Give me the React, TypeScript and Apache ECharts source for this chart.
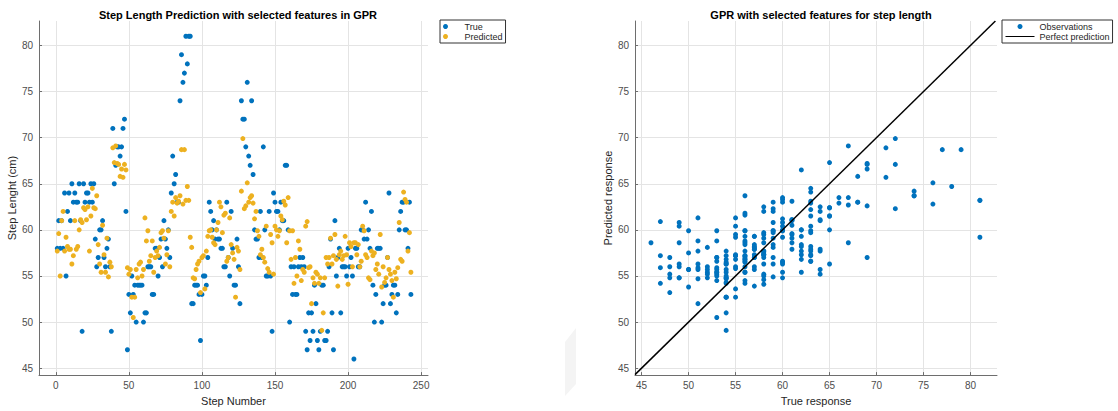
import React, { useEffect, useRef } from "react";
import * as echarts from "echarts";

const trueLength: number[] = [
  58, 61, 58, 61, 58, 64, 55, 62, 64, 61, 65, 63, 64, 63, 63, 65, 61, 49, 65, 63,
  64, 64, 63, 65, 63, 65, 59, 56, 57, 60, 60, 61, 57, 56, 58, 59, 56, 49,
  71, 65, 67, 69, 69, 68, 69, 71, 72, 62,
  47, 53, 51, 55, 53, 54, 50, 54, 54, 54, 54, 50, 51, 51, 56, 56, 56, 53, 53, 58,
  58, 55, 57, 59, 56, 61, 59, 58, 60, 57,
  64, 68, 65, 66, 63, 63, 74, 79, 76, 77, 81, 78, 81, 81, 52, 52, 54, 54, 54, 53,
  48, 53, 55, 55, 54, 57,
  63, 62, 60, 61, 59, 60, 59, 59, 58, 58, 56, 56, 63, 57, 55, 62, 58, 54, 54, 59,
  56, 52,
  74, 72, 72, 69, 76, 68, 67, 74, 66, 60, 59, 59, 57, 62, 57, 69, 60, 55, 55, 62,
  55, 49, 64, 63, 62, 62, 60, 63, 61, 61, 67, 67, 60,
  50, 56, 53, 56, 53, 53, 56, 57, 56, 57, 56, 49, 47, 51, 48, 51, 49, 54, 52, 48,
  47, 49, 54, 54, 48, 48, 49, 56, 59, 51, 47, 61, 55, 57, 58, 51, 56, 56, 56, 55,
  58, 56, 57, 55, 46,
  58, 58, 56, 56, 60, 60, 59, 63, 59, 60, 58, 62, 54, 50, 53, 58, 58, 58, 50, 52,
  54, 54, 57, 64, 52, 53, 54, 54, 51, 53, 60, 62, 63, 63, 60, 60, 58, 63, 53,
];

// GPR predicted step lengths (cm)
const predictedLength: number[] = [
  57.7, 59.6, 55.0, 61.0, 62.0, 57.7, 59.2, 58.2, 57.9, 57.9, 56.3, 57.2, 61.0, 57.9, 58.2, 60.0, 61.1, 60.8, 62.4, 62.2,
  61.1, 62.5, 57.7, 61.5, 64.5, 62.4, 62.3, 63.7, 58.4, 56.3, 55.4, 60.5, 57.3, 55.4, 59.1, 54.9, 56.5, 56.0,
  68.9, 67.3, 69.1, 67.2, 67.1, 65.8, 66.6, 65.7, 67.1, 66.5,
  55.9, 55.2, 55.7, 52.7, 50.5, 52.7, 55.7, 54.8, 56.3, 56.5, 55.0, 55.7, 61.3, 58.8, 59.9, 56.6, 57.2, 58.8, 55.4, 57.0,
  57.7, 57.2, 58.1, 59.7, 59.9, 59.1, 56.3, 57.3, 59.9, 56.0,
  62.0, 63.0, 61.5, 63.5, 62.9, 63.1, 63.7, 68.7, 62.8, 68.7, 63.2, 64.7, 63.2, 59.2, 58.1, 54.8, 54.7, 55.7, 56.3, 56.6,
  53.2, 57.0, 57.2, 53.6, 57.7, 59.3,
  59.9, 60.0, 59.2, 58.6, 58.4, 60.0, 60.8, 63.0, 62.5, 59.7, 61.6, 61.8, 56.6, 57.0, 61.3, 58.4, 57.5, 56.8, 52.7, 58.1,
  57.7, 55.7,
  64.2, 69.9, 62.3, 62.6, 65.1, 63.0, 63.5, 63.7, 62.9, 61.2, 62.0, 59.9, 59.3, 57.3, 57.9, 57.0, 56.5, 60.4, 55.8, 55.4,
  59.5, 58.6, 55.2, 60.4, 60.0, 59.3, 59.9, 61.5, 61.1, 63.1, 62.7, 58.6, 63.5,
  59.9, 56.8, 59.9, 54.2, 57.0, 55.0, 58.8, 57.9, 54.5, 55.7, 55.4, 60.4, 60.9, 55.9, 56.0, 52.0, 54.8, 54.2, 55.4, 55.2,
  54.2, 54.8, 49.1, 51.0, 54.8, 57.0, 56.3, 57.0, 59.1, 56.3, 57.2, 59.5, 56.8, 53.9, 57.3, 57.7, 56.8, 57.2, 59.3, 57.3,
  54.1, 58.6, 58.2, 56.0, 58.6,
  58.6, 57.3, 58.4, 56.0, 56.6, 60.4, 59.9, 57.3, 57.0, 54.8, 54.6, 57.7, 57.2, 57.5, 55.7, 56.3, 55.2, 59.5, 53.8, 56.0,
  54.3, 54.8, 57.0, 55.7, 55.2, 54.5, 52.7, 55.4, 54.7, 55.9, 60.8, 56.8, 56.6, 64.1, 63.3, 63.0, 57.7, 59.7, 55.4,
];

const stepNumbers: number[] = trueLength.map((_, i) => i + 1);

const stepAxisRange = [-11.5, 254.7];
const lengthAxisRange = [44.25, 82.65];
const responseAxisRange = [44.3, 82.82];
const perfectLine = [
  [44.3, 44.3],
  [82.65, 82.65],
];

const FONT = "'Liberation Sans', Arial, Helvetica, sans-serif";
const BLUE = "#0072BD";
const ORANGE = "#EDB120";

function axisBase(min: number, max: number, step: number, name: string, gap: number, isY: boolean) {
  return {
    type: "value",
    min,
    max,
    minInterval: step,
    maxInterval: step,
    name,
    nameLocation: "middle",
    nameGap: gap,
    nameRotate: isY ? 90 : 0,
    nameTextStyle: { color: "#262626", fontSize: 11, fontFamily: FONT },
    axisLine: { show: true, onZero: false, lineStyle: { color: "#6e6e6e", width: 1 } },
    axisTick: { show: true, inside: true, length: 3, lineStyle: { color: "#6e6e6e" } },
    axisLabel: {
      color: "#4d4d4d",
      fontSize: 10,
      fontFamily: FONT,
      margin: isY ? 6 : 5,
      showMinLabel: false,
      showMaxLabel: false,
    },
    splitLine: {
      show: true,
      showMinLine: false,
      showMaxLine: false,
      lineStyle: { color: "#e4e4e4", width: 1 },
    },
  };
}

const legendCommon = {
  orient: "vertical",
  top: 20,
  padding: [1.5, 3],
  itemGap: 0,
  itemHeight: 5,
  borderColor: "#333333",
  borderWidth: 1,
  backgroundColor: "#ffffff",
  borderRadius: 0,
  textStyle: { fontSize: 9, lineHeight: 10, color: "#262626", fontFamily: FONT },
};

export default function App() {
  const ref = useRef<HTMLDivElement>(null);

  useEffect(() => {
    if (!ref.current) return;
    const chart = echarts.init(ref.current, null, { renderer: "svg" });

    const option = {
      animation: false,
      backgroundColor: "#ffffff",
      textStyle: { fontFamily: FONT },
      title: [
        {
          text: "Step Length Prediction with selected features in GPR",
          left: 233,
          top: 4,
          textAlign: "center",
          textStyle: { fontSize: 11, fontWeight: "bold", color: "#000", fontFamily: FONT },
        },
        {
          text: "GPR with selected features for step length",
          left: 816,
          top: 4,
          textAlign: "center",
          textStyle: { fontSize: 11, fontWeight: "bold", color: "#000", fontFamily: FONT },
        },
      ],
      legend: [
        {
          ...legendCommon,
          data: ["True", "Predicted"],
          left: 440,
          itemWidth: 28,
        },
        {
          ...legendCommon,
          data: [
            { name: "Observations", icon: "circle" },
            { name: "Perfect prediction", itemStyle: { opacity: 0 }, lineStyle: { color: "#000", width: 1 } },
          ],
          left: 1002,
          itemWidth: 29,
        },
      ],
      grid: [
        { left: 39, top: 21, width: 389, height: 358 },
        { left: 635, top: 21, width: 362, height: 358 },
      ],
      xAxis: [
        { ...axisBase(stepAxisRange[0], stepAxisRange[1], 50, "Step Number", 14, false), gridIndex: 0 },
        { ...axisBase(responseAxisRange[0], responseAxisRange[1], 5, "True response", 14, false), gridIndex: 1 },
      ],
      yAxis: [
        { ...axisBase(lengthAxisRange[0], lengthAxisRange[1], 5, "Step Lenght (cm)", 19, true), gridIndex: 0 },
        { ...axisBase(lengthAxisRange[0], lengthAxisRange[1], 5, "Predicted response", 20, true), gridIndex: 1 },
      ],
      graphic: [
        {
          type: "polygon",
          silent: true,
          z: -10,
          shape: { points: [[565, 342], [576, 328], [576, 384], [565, 396]] },
          style: { fill: "#f4f4f4" },
        },
      ],
      series: [
        {
          name: "True",
          type: "scatter",
          xAxisIndex: 0,
          yAxisIndex: 0,
          symbol: "circle",
          symbolSize: 5,
          itemStyle: { color: BLUE, opacity: 1 },
          data: stepNumbers.map((s, i) => [s, trueLength[i]]),
          z: 2,
        },
        {
          name: "Predicted",
          type: "scatter",
          xAxisIndex: 0,
          yAxisIndex: 0,
          symbol: "circle",
          symbolSize: 5,
          itemStyle: { color: ORANGE, opacity: 1 },
          data: stepNumbers.map((s, i) => [s, predictedLength[i]]),
          z: 3,
        },
        {
          name: "Observations",
          type: "scatter",
          xAxisIndex: 1,
          yAxisIndex: 1,
          symbol: "circle",
          symbolSize: 5,
          itemStyle: { color: BLUE, opacity: 1 },
          data: trueLength.map((t, i) => [t, predictedLength[i]]),
          z: 2,
        },
        {
          name: "Perfect prediction",
          type: "line",
          xAxisIndex: 1,
          yAxisIndex: 1,
          symbol: "none",
          showSymbol: false,
          lineStyle: { color: "#000000", width: 1.5 },
          itemStyle: { color: "#000000" },
          data: perfectLine,
          z: 4,
        },
      ],
    };

    chart.setOption(option as any);
    return () => {
      chart.dispose();
    };
  }, []);

  return (
    <div
      ref={ref}
      style={{ position: "absolute", left: 0, top: 0, width: 1118, height: 411, background: "#fff" }}
    />
  );
}
